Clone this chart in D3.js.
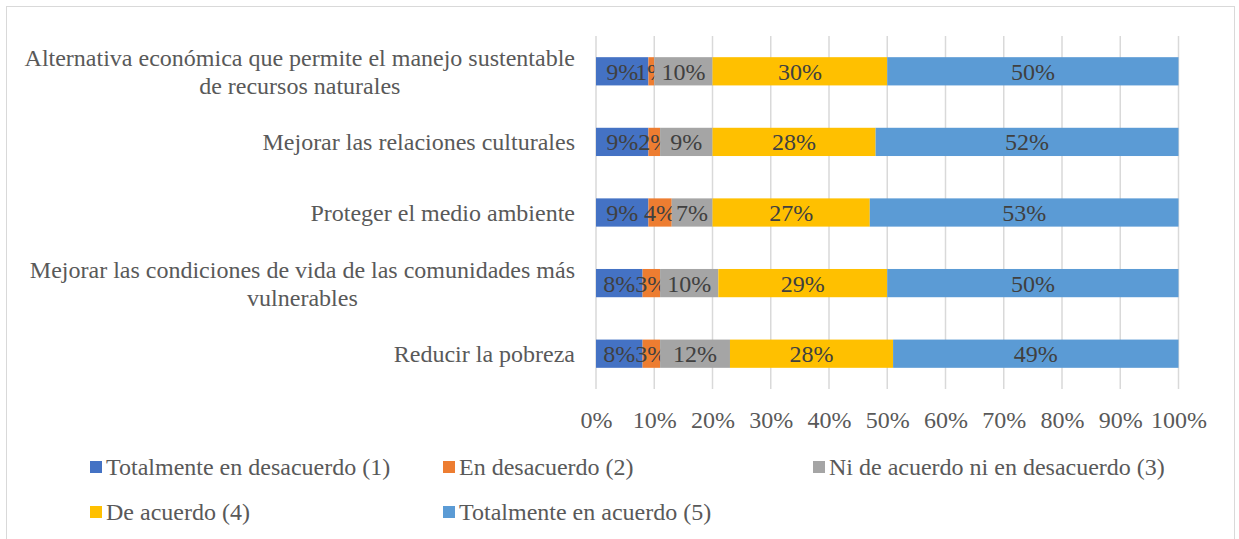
<!DOCTYPE html>
<html>
<head>
<meta charset="utf-8">
<script src="https://cdn.jsdelivr.net/npm/d3@7"></script>
<style>
  body { margin: 0; background: #fff; }
  svg text { font-family: 'Liberation Serif', 'Times New Roman', serif !important; }
</style>
</head>
<body>
<div id="chart"></div>
<script>
// categories, top to bottom
var categories = [
  "Alternativa económica que permite el manejo sustentable|de recursos naturales",
  "Mejorar las relaciones culturales",
  "Proteger el medio ambiente",
  "Mejorar las condiciones de vida de las comunidades más|vulnerables",
  "Reducir la pobreza"
];
var seriesNames = [
  "Totalmente en desacuerdo (1)",
  "En desacuerdo (2)",
  "Ni de acuerdo ni en desacuerdo (3)",
  "De acuerdo (4)",
  "Totalmente en acuerdo (5)"
];
var totDesacuerdo = [9, 9, 9, 8, 8];
var enDesacuerdo  = [1, 2, 4, 3, 3];
var niNi          = [10, 9, 7, 10, 12];
var deAcuerdo     = [30, 28, 27, 29, 28];
var totAcuerdo    = [50, 52, 53, 50, 49];
var tickValues = [0, 10, 20, 30, 40, 50, 60, 70, 80, 90, 100];
var colors = ["#4472c4", "#ed7d31", "#a5a5a5", "#ffc000", "#5b9bd5"];

var W = 1239, H = 539;
var FS = '24px';
var svg = d3.select('#chart').append('svg')
  .attr('width', W).attr('height', H);

// outer chart border
svg.append('rect')
  .attr('x', 6.5).attr('y', 6.5)
  .attr('width', 1228).attr('height', 540)
  .attr('fill', '#fff').attr('stroke', '#d9d9d9');

var plot = {left: 596, right: 1178.5, top: 36, bottom: 389};

var keys = ["s0", "s1", "s2", "s3", "s4"];
var rows = categories.map(function(c, i) {
  return {cat: c, s0: totDesacuerdo[i], s1: enDesacuerdo[i], s2: niNi[i], s3: deAcuerdo[i], s4: totAcuerdo[i]};
});
var stack = d3.stack().keys(keys)(rows);

var x = d3.scaleLinear().domain([0, 100]).range([plot.left, plot.right]);
var y = d3.scaleBand().domain(categories).range([plot.top, plot.bottom])
  .paddingInner(0.6).paddingOuter(0.3);

// gridlines
svg.append('g').selectAll('line')
  .data(tickValues)
  .enter().append('line')
    .attr('x1', function(d) { return x(d); })
    .attr('x2', function(d) { return x(d); })
    .attr('y1', plot.top).attr('y2', plot.bottom)
    .attr('stroke', '#d9d9d9').attr('stroke-width', 1.5);

// bars
var layer = svg.append('g').selectAll('g')
  .data(stack)
  .enter().append('g')
    .attr('fill', function(d, i) { return colors[i]; });

layer.selectAll('rect')
  .data(function(d) { return d; })
  .enter().append('rect')
    .attr('x', function(d) { return x(d[0]); })
    .attr('y', function(d) { return y(d.data.cat); })
    .attr('width', function(d) { return x(d[1]) - x(d[0]); })
    .attr('height', y.bandwidth());

// data labels
layer.selectAll('text')
  .data(function(d) { return d; })
  .enter().append('text')
    .attr('x', function(d) { return (x(d[0]) + x(d[1])) / 2; })
    .attr('y', function(d) { return y(d.data.cat) + y.bandwidth() / 2; })
    .attr('dy', '0.35em')
    .attr('text-anchor', 'middle')
    .attr('fill', '#404040')
    .style('font-size', FS)
    .text(function(d) { return (d[1] - d[0]) + '%'; });

// x axis labels
var xAxis = svg.append('g')
  .attr('transform', 'translate(0,' + (plot.bottom + 31) + ')')
  .call(d3.axisBottom(x).tickValues(tickValues).tickSize(0).tickFormat(function(d) { return d + '%'; }));
xAxis.select('.domain').remove();
xAxis.selectAll('text')
  .attr('y', 0).attr('dy', '0.35em')
  .attr('fill', '#595959')
  .style('font-size', FS);

// category labels (wrapped lines centred, block right aligned)
var labelRight = 575;
categories.forEach(function(c) {
  var lines = c.split('|');
  var g = svg.append('g');
  var cy = y(c) + y.bandwidth() / 2;
  var lh = 28;
  var texts = lines.map(function(l, j) {
    return g.append('text')
      .attr('y', cy + (j - (lines.length - 1) / 2) * lh)
      .attr('dy', '0.35em')
      .attr('text-anchor', 'middle')
      .attr('fill', '#595959')
      .style('font-size', FS)
      .text(l);
  });
  var maxW = d3.max(texts, function(t) { return t.node().getComputedTextLength(); });
  texts.forEach(function(t) { t.attr('x', labelRight - maxW / 2); });
});

// legend
var legendPos = [[90, 467], [443, 467], [813, 467], [90, 512], [443, 512]];
var legend = svg.append('g').selectAll('g')
  .data(seriesNames)
  .enter().append('g')
    .attr('transform', function(d, i) { return 'translate(' + legendPos[i][0] + ',' + legendPos[i][1] + ')'; });
legend.append('rect')
  .attr('x', 0).attr('y', -6).attr('width', 12).attr('height', 12)
  .attr('fill', function(d, i) { return colors[i]; });
legend.append('text')
  .attr('x', 16).attr('dy', '0.35em')
  .attr('fill', '#595959')
  .style('font-size', FS)
  .text(function(d) { return d; });
</script>
</body>
</html>
